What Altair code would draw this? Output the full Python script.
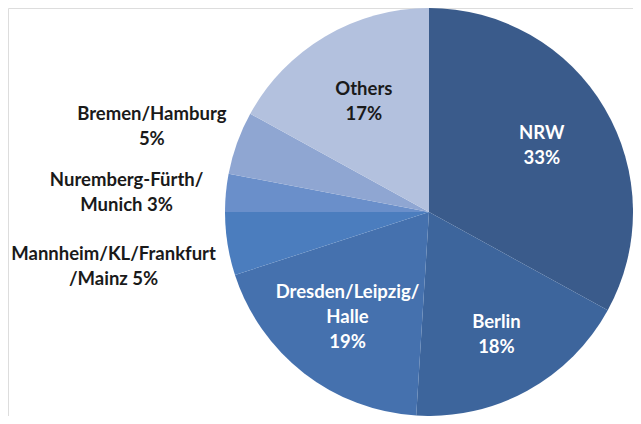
import altair as alt
import pandas as pd

# ---- data ----
regions = ["NRW", "Berlin", "Dresden/Leipzig/Halle", "Mannheim/KL/Frankfurt/Mainz",
           "Nuremberg-Fürth/Munich", "Bremen/Hamburg", "Others"]
shares = [33, 18, 19, 5, 3, 5, 17]
labels = ["NRW\n33%", "Berlin\n18%", "Dresden/Leipzig/\nHalle\n19%",
          "Mannheim/KL/Frankfurt\n/Mainz 5%", "Nuremberg-Fürth/\nMunich 3%",
          "Bremen/Hamburg\n5%", "Others\n17%"]

# ---- styling / layout ----
colors = ["#3a5b8b", "#3d659c", "#4571ae", "#4b7dbe", "#6a8fca", "#8fa6d2", "#b3c1de"]
label_colors = ["white", "white", "white", "#1a1a1a", "#1a1a1a", "#1a1a1a", "#1a1a1a"]
label_radius = [131, 140, 133, 320, 303, 290, 128]
label_nudge = [0, 0, 0, -0.2, -0.5, -0.75, 0]   # in share units
LH = 25

CX, CY, R = 421, 204, 204

df = pd.DataFrame({
    "region": regions,
    "share": shares,
    "label": labels,
    "order": list(range(len(regions))),
    "lcolor": label_colors,
    "lr": label_radius,
    "nudge": label_nudge,
})

theta_scale = alt.Scale(domain=[0, 100], range=[0, 6.283185307])

base = alt.Chart(df)

arcs = base.mark_arc(radius=R, stroke=None).encode(
    theta=alt.Theta("share:Q", stack=True, scale=theta_scale),
    order=alt.Order("order:Q"),
    color=alt.Color("region:N", scale=alt.Scale(domain=regions, range=colors), legend=None),
    x=alt.value(CX),
    y=alt.value(CY),
)


def text_layer(nlines):
    return base.transform_window(
        cum="sum(share)", sort=[alt.SortField("order")], frame=[None, 0]
    ).transform_calculate(
        mid="datum.cum - datum.share / 2 + datum.nudge",
        nl="split(datum.label, '\\n').length",
    ).transform_filter(
        alt.datum.nl == nlines
    ).mark_text(
        font="Lato", fontWeight="bold", fontSize=18.5, lineBreak="\n",
        lineHeight=LH, align="center", baseline="middle",
        dy=-(nlines - 1) * LH / 2,
    ).encode(
        theta=alt.Theta("mid:Q", stack=None, scale=theta_scale),
        radius=alt.Radius("lr:Q", scale=None),
        text="label:N",
        color=alt.Color("lcolor:N", scale=None),
        x=alt.value(CX),
        y=alt.value(CY),
    )


chart = alt.layer(arcs, text_layer(2), text_layer(3)).properties(
    width=625, height=408, padding=0,
    autosize=alt.AutoSizeParams(type="none"),
).configure_view(stroke=None).configure(background="white")

chart.save("out.html", embed_options={"renderer": "svg", "actions": False})
